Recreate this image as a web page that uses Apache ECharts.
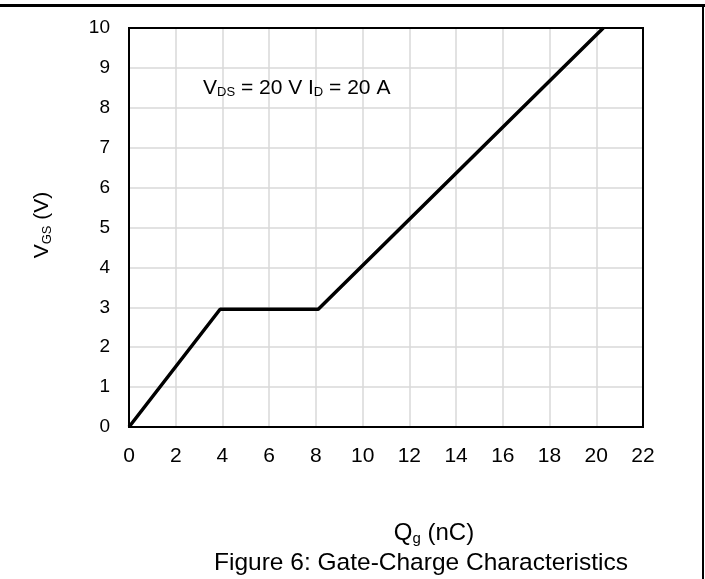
<!DOCTYPE html>
<html>
<head>
<meta charset="utf-8">
<script src="https://cdn.jsdelivr.net/npm/echarts@6/dist/echarts.min.js"></script>
<style>html,body{margin:0;padding:0;background:#fff;}#c{width:705px;height:579px;}</style>
</head>
<body>
<div id="c"></div>
<script>
var qg = [0, 3.9, 8.1, 20.3];
var vgs = [0, 2.95, 2.95, 10];
var xTicks = [0, 2, 4, 6, 8, 10, 12, 14, 16, 18, 20, 22];
var yTicks = [0, 1, 2, 3, 4, 5, 6, 7, 8, 9, 10];

var chart = echarts.init(document.getElementById('c'), null, {renderer: 'canvas'});
var font = 'Liberation Sans, Arial, sans-serif';
var option = {
  animation: false,
  backgroundColor: '#fff',
  grid: {left: 129, top: 28, right: 62, bottom: 152, containLabel: false},
  xAxis: {
    type: 'value', min: xTicks[0], max: xTicks[xTicks.length - 1], interval: 2,
    axisLine: {show: true, onZero: false, lineStyle: {color: '#000', width: 2}},
    axisTick: {show: false},
    axisLabel: {color: '#000', fontSize: 21, fontFamily: font, margin: 19},
    splitLine: {show: true, lineStyle: {color: '#d9d9d9', width: 1.5}}
  },
  yAxis: {
    type: 'value', min: yTicks[0], max: yTicks[yTicks.length - 1], interval: 1,
    axisLine: {show: true, onZero: false, lineStyle: {color: '#000', width: 2}},
    axisTick: {show: false},
    axisLabel: {color: '#000', fontSize: 19, fontFamily: font, margin: 19},
    splitLine: {show: true, lineStyle: {color: '#d9d9d9', width: 1.5}}
  },
  series: [{
    type: 'line',
    data: qg.map(function (x, i) { return [x, vgs[i]]; }),
    showSymbol: false,
    lineStyle: {color: '#000', width: 3.5},
    z: 5
  }],
  graphic: [
    {type: 'rect', shape: {x: 0, y: 4, width: 705, height: 3}, style: {fill: '#000'}},
    {type: 'rect', shape: {x: 702, y: 4, width: 2, height: 575}, style: {fill: '#000'}},
    {type: 'rect', shape: {x: 129, y: 28, width: 514, height: 399}, style: {fill: 'none', stroke: '#000', lineWidth: 2}, z: 10},
    {
      type: 'text', x: 203, y: 88,
      style: {
        text: '{m|V}{s|DS}{m| = 20 V I}{s|D}{m| = 20 A}',
        rich: {
          m: {fontSize: 21, fontFamily: font, fill: '#000'},
          s: {fontSize: 13, fontFamily: font, fill: '#000', padding: [9, 0, 0, 0]}
        },
        verticalAlign: 'middle'
      }, z: 20
    },
    {
      type: 'text', x: 42, y: 225, rotation: Math.PI / 2,
      style: {
        text: '{m|V}{s|GS}{m| (V)}',
        rich: {
          m: {fontSize: 21, fontFamily: font, fill: '#000'},
          s: {fontSize: 13, fontFamily: font, fill: '#000', padding: [10, 0, 0, 0]}
        },
        align: 'center', verticalAlign: 'middle'
      }
    },
    {
      type: 'text', x: 434, y: 533,
      style: {
        text: '{m|Q}{s|g}{m| (nC)}',
        rich: {
          m: {fontSize: 24, fontFamily: font, fill: '#000'},
          s: {fontSize: 15, fontFamily: font, fill: '#000', padding: [12, 0, 0, 0]}
        },
        align: 'center', verticalAlign: 'middle'
      }
    },
    {
      type: 'text', x: 421, y: 563,
      style: {
        text: 'Figure 6: Gate-Charge Characteristics',
        font: '24.5px ' + font, fill: '#000',
        align: 'center', verticalAlign: 'middle'
      }
    }
  ]
};
chart.setOption(option);
</script>
</body>
</html>
